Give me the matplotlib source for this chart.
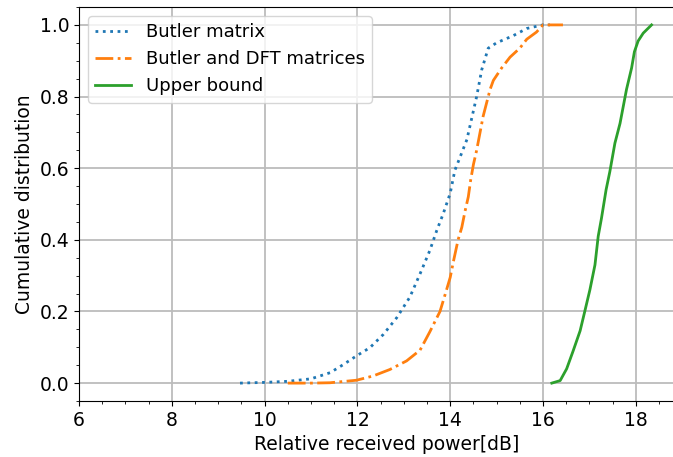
import matplotlib
matplotlib.use("Agg")
import matplotlib.pyplot as plt
from matplotlib.ticker import MultipleLocator

# values
butler_x = [9.47, 10.0, 10.5, 11.0, 11.41, 11.7, 11.98, 12.27, 12.56, 12.85, 13.13,
            13.35, 13.56, 13.71, 13.85, 14.0, 14.1, 14.21, 14.36, 14.57, 14.68, 14.82,
            15.0, 15.36, 15.65, 16.0, 16.15]
butler_y = [0.0, 0.002, 0.005, 0.012, 0.029, 0.052, 0.076, 0.099, 0.136, 0.183, 0.24,
            0.305, 0.37, 0.426, 0.473, 0.53, 0.594, 0.63, 0.68, 0.8, 0.875, 0.935,
            0.95, 0.97, 0.99, 1.0, 1.0]

dft_x = [10.5, 11.0, 11.41, 11.98, 12.34, 12.7, 13.06, 13.35, 13.56, 13.78, 13.92,
         14.0, 14.07, 14.17, 14.25, 14.32, 14.39, 14.44, 14.5, 14.57, 14.71, 14.86,
         14.93, 15.11, 15.29, 15.5, 15.65, 15.86, 16.0, 16.43]
dft_y = [0.0, 0.0, 0.001, 0.008, 0.02, 0.038, 0.062, 0.092, 0.143, 0.2, 0.26,
         0.295, 0.34, 0.4, 0.435, 0.48, 0.52, 0.566, 0.61, 0.65, 0.745, 0.82,
         0.845, 0.88, 0.91, 0.935, 0.96, 0.98, 1.0, 1.0]

upper_x = [16.19, 16.37, 16.51, 16.65, 16.8, 16.9, 17.01, 17.12, 17.19, 17.26, 17.36,
           17.44, 17.55, 17.66, 17.8, 17.91, 17.97, 18.05, 18.16, 18.34]
upper_y = [0.0, 0.007, 0.04, 0.09, 0.146, 0.2, 0.26, 0.33, 0.41, 0.46, 0.54,
           0.59, 0.67, 0.725, 0.82, 0.88, 0.925, 0.955, 0.977, 1.0]

plt.rcParams['font.size'] = 13.5

fig = plt.figure(figsize=(6.73, 4.57), dpi=100)
# right edge of the axes falls outside the picture, as in the reference
ax = fig.add_axes([0.1174, 0.1225, 0.9135, 0.8622])

ax.plot(butler_x, butler_y, ':', color='tab:blue', lw=2, label='Butler matrix')
ax.plot(dft_x, dft_y, '-.', color='tab:orange', lw=2, label='Butler and DFT matrices')
ax.plot(upper_x, upper_y, '-', color='tab:green', lw=2, label='Upper bound')

ax.set_xlim(6, 19.25)
ax.set_ylim(-0.05, 1.05)
ax.xaxis.set_major_locator(MultipleLocator(2))
ax.xaxis.set_minor_locator(MultipleLocator(0.5))
ax.yaxis.set_major_locator(MultipleLocator(0.2))
ax.yaxis.set_minor_locator(MultipleLocator(0.05))
ax.grid(True, which='major', color='#bcbcbc', lw=1.3)
ax.set_xlabel('Relative received power[dB]')
ax.set_ylabel('Cumulative distribution')
ax.legend(loc='upper left', fontsize=13)

fig.savefig('out.png', dpi=100)
